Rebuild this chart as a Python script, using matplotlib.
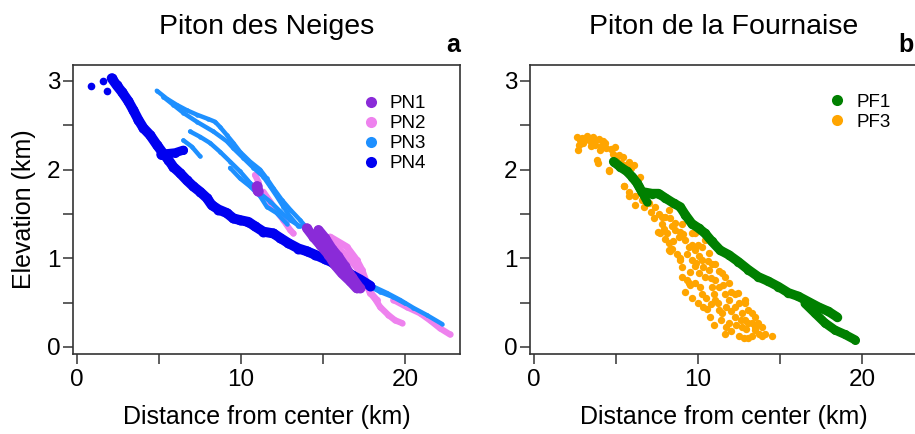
import matplotlib
matplotlib.use('Agg')
import matplotlib.pyplot as plt
from matplotlib.lines import Line2D

plt.rcParams['font.family'] = ['Liberation Sans', 'DejaVu Sans']

# ---------------- data (km) ----------------
# Piton des Neiges
pn4_x = [2.11, 2.42, 2.72, 3.13, 3.43, 3.74, 4.04, 4.45, 4.86, 5.26, 5.57, 5.87, 6.28, 6.69, 7.09,
         7.50, 7.91, 8.21, 8.62, 9.13, 9.53, 9.94, 10.45, 10.85, 11.36, 11.97, 12.38, 12.89, 13.50,
         14.00, 14.51, 15.12, 15.60, 16.10, 16.75, 17.26, 17.87]
pn4_y = [3.03, 2.95, 2.88, 2.77, 2.67, 2.56, 2.47, 2.39, 2.28, 2.18, 2.11, 2.03, 1.96, 1.88, 1.81,
         1.75, 1.68, 1.60, 1.55, 1.51, 1.45, 1.43, 1.41, 1.36, 1.30, 1.28, 1.23, 1.17, 1.11,
         1.08, 1.04, 0.99, 0.95, 0.90, 0.81, 0.76, 0.69]
pn4_branch_x = [5.10, 5.47, 5.98, 6.48]
pn4_branch_y = [2.17, 2.18, 2.19, 2.22]
pn4_iso_x = [0.83, 1.57, 1.85]
pn4_iso_y = [2.94, 3.00, 2.89]

pn3_a_x = [4.86, 5.47, 6.08, 6.69, 7.30, 8.01, 8.41, 8.72, 9.13, 9.53, 9.94, 10.55, 11.16, 11.57,
           11.97, 12.48, 12.99, 13.60, 14.11, 14.61, 15.22, 15.83, 16.44, 17.05, 17.66, 18.48,
           19.29, 20.00]
pn3_a_y = [2.89, 2.80, 2.73, 2.67, 2.62, 2.57, 2.54, 2.48, 2.39, 2.30, 2.20, 2.09, 2.00, 1.90,
           1.79, 1.66, 1.55, 1.43, 1.32, 1.21, 1.09, 0.98, 0.89, 0.79, 0.70, 0.62, 0.56, 0.49]
pn3_b_x = [5.26, 5.87, 6.48, 7.30, 8.31, 9.13, 9.53, 10.14, 10.75, 11.36, 11.77, 12.17, 12.58,
           12.99, 13.50]
pn3_b_y = [2.82, 2.73, 2.64, 2.54, 2.43, 2.32, 2.24, 2.13, 2.02, 1.92, 1.81, 1.70, 1.58, 1.47, 1.36]
pn3_c_x = [6.89, 7.50, 8.11, 8.72, 9.33, 9.94, 10.55, 11.16, 11.77, 12.38, 12.99, 13.60]
pn3_c_y = [2.43, 2.37, 2.30, 2.20, 2.09, 1.98, 1.85, 1.73, 1.64, 1.53, 1.43, 1.36]
pn3_d_x = [6.48, 6.99, 7.50]
pn3_d_y = [2.33, 2.26, 2.15]
pn3_e_x = [18.07, 18.88, 19.70, 20.51, 21.32, 22.24]
pn3_e_y = [0.68, 0.61, 0.53, 0.44, 0.36, 0.26]
pn3_f_x = [9.33, 9.94, 10.55, 11.16, 11.57, 12.17, 12.79]
pn3_f_y = [2.02, 1.90, 1.81, 1.70, 1.58, 1.51, 1.39]

pn2_a_x = [10.85, 11.06]
pn2_a_y = [1.94, 1.86]
pn2_b_x = [11.36, 11.77, 12.17, 12.58, 12.99, 13.19]
pn2_b_y = [1.75, 1.64, 1.53, 1.43, 1.32, 1.28]
pn2_c_x = [14.82, 15.33, 15.83, 16.24, 16.65, 17.05, 17.36, 17.66, 18.07, 18.48, 18.98, 19.39, 19.80]
pn2_c_y = [1.26, 1.21, 1.13, 1.06, 0.98, 0.89, 0.79, 0.68, 0.57, 0.45, 0.36, 0.30, 0.27]
pn2_d_x = [15.43, 16.44, 17.05, 17.36, 17.87, 18.27]
pn2_d_y = [1.24, 1.13, 0.98, 0.87, 0.61, 0.53]
pn2_e_x = [19.29, 20.10, 20.91, 21.52, 22.13, 22.74]
pn2_e_y = [0.53, 0.45, 0.38, 0.30, 0.21, 0.14]

pn1_a_x = [14.00, 14.41, 14.82, 15.33, 15.73, 16.14, 16.65, 17.05]
pn1_a_y = [1.34, 1.24, 1.15, 1.04, 0.92, 0.83, 0.74, 0.66]
pn1_b_x = [14.72, 15.12, 15.53, 15.93, 16.34, 16.75, 17.26]
pn1_b_y = [1.32, 1.23, 1.11, 1.02, 0.91, 0.79, 0.66]
pn1_c_x = [10.96, 11.02]
pn1_c_y = [1.81, 1.76]

# Piton de la Fournaise
pf1_a_x = [4.85, 5.26, 5.66, 5.97, 6.27, 6.58, 7.19, 7.59, 8.00, 8.51, 8.91, 9.22, 9.62, 10.03,
           10.43, 10.84, 11.35, 11.86, 12.46, 13.07, 13.68, 14.29, 14.90, 15.51, 16.12, 16.73,
           17.34, 17.95, 18.45]
pf1_a_y = [2.09, 2.03, 1.98, 1.92, 1.85, 1.75, 1.73, 1.73, 1.68, 1.62, 1.58, 1.49, 1.39, 1.34,
           1.28, 1.19, 1.09, 1.04, 0.96, 0.87, 0.79, 0.74, 0.68, 0.61, 0.57, 0.51, 0.45, 0.40, 0.34]
pf1_b_x = [16.52, 17.13, 17.74, 18.35, 18.96, 19.57]
pf1_b_y = [0.49, 0.38, 0.27, 0.19, 0.14, 0.08]
pf1_c_x = [6.37, 6.88]
pf1_c_y = [1.81, 1.64]

pf3_x = [2.62, 3.33, 3.94, 2.72, 3.73, 4.34, 4.95, 5.16, 5.77, 6.07, 3.90, 4.55, 6.48,
         2.90, 3.10, 3.50, 3.60, 4.10, 4.70, 5.40, 5.60, 5.90, 3.00, 4.20,
         2.80, 3.20, 3.45, 3.80, 4.00, 4.40, 4.80, 5.00, 5.30, 2.70,
         5.46, 5.77, 6.17, 6.68, 6.98,
         7.39, 8.00, 8.61, 9.21, 9.82, 10.23, 10.64, 11.04, 11.65, 12.26, 12.87, 13.48, 14.09, 14.49,
         7.80, 7.69, 8.20, 8.30, 8.91, 9.01, 9.52, 9.82, 10.23, 10.54, 10.74, 11.25, 11.65, 11.86,
         12.47, 13.07, 13.48,
         9.62, 10.23, 10.84, 11.65, 12.26, 12.87, 13.28, 13.89,
         7.80, 8.40, 8.81, 9.42, 10.03, 10.43, 11.25, 11.86, 12.67, 13.07, 9.62, 10.03, 11.04,
         11.45, 12.26, 12.67, 13.28, 8.20, 9.01, 9.83, 10.64, 11.04, 11.45, 11.86, 12.46, 12.87,
         13.07, 13.48, 13.68, 10.43, 10.84,
         3.84, 4.57, 5.48, 5.79, 6.15, 6.58, 8.10, 8.20, 8.91, 9.42, 10.33, 7.30, 7.55, 9.20,
         7.10, 7.60, 8.30, 8.60, 7.90, 8.90, 8.50, 9.10, 9.30, 9.60, 8.70, 10.00, 9.00, 9.50,
         10.30, 10.60, 9.30, 9.80, 10.10, 10.80, 11.30, 10.50, 11.00, 11.50, 12.00, 10.80,
         11.20, 11.70, 12.50, 11.00, 11.40, 12.00, 12.30, 12.90, 13.30, 13.70, 12.00, 12.60,
         10.00, 9.60, 11.70, 12.80, 13.90, 8.00, 8.40, 9.90]
pf3_y = [2.37, 2.35, 2.35, 2.28, 2.28, 2.30, 2.26, 2.17, 2.09, 2.05, 2.08, 1.98, 1.92,
         2.36, 2.33, 2.31, 2.37, 2.27, 2.23, 2.14, 2.05, 2.02, 2.30, 2.32,
         2.33, 2.38, 2.27, 2.33, 2.22, 2.24, 2.18, 2.12, 2.08, 2.22,
         1.82, 1.75, 1.70, 1.58, 1.62,
         1.58, 1.47, 1.32, 1.21, 1.09, 0.98, 0.87, 0.76, 0.60, 0.45, 0.30, 0.19, 0.14, 0.12,
         1.39, 1.28, 1.17, 1.08, 0.98, 0.79, 0.70, 0.91, 0.60, 0.43, 0.34, 0.42, 0.15, 0.27,
         0.12, 0.10, 0.23,
         1.28, 1.13, 0.94, 0.79, 0.60, 0.49, 0.38, 0.23,
         1.47, 1.36, 1.24, 1.13, 1.02, 0.79, 0.68, 0.53, 0.38, 0.27, 0.98, 0.83, 0.53,
         0.38, 0.34, 0.23, 0.12, 1.55, 1.39, 1.28, 1.06, 0.94, 0.83, 0.72, 0.61, 0.53,
         0.42, 0.34, 0.27, 1.21, 0.68,
         2.11, 2.00, 1.82, 1.70, 1.60, 1.66, 1.28, 1.09, 1.00, 0.72, 0.45, 1.45, 1.30, 0.62,
         1.52, 1.50, 1.45, 1.40, 1.33, 1.30, 1.20, 1.27, 1.05, 1.15, 1.05, 1.15, 0.90, 0.85,
         0.90, 0.97, 0.75, 0.72, 0.68, 0.78, 0.86, 0.55, 0.60, 0.70, 0.62, 0.48,
         0.50, 0.45, 0.50, 0.25, 0.30, 0.18, 0.25, 0.20, 0.27, 0.15, 0.40, 0.30,
         0.50, 0.55, 0.22, 0.10, 0.12, 1.22, 1.10, 0.95]

xticks = [0, 5, 10, 15, 20]
xticklabels = ['0', '', '10', '', '20']
yticks = [0, 0.5, 1, 1.5, 2, 2.5, 3]
yticklabels = ['0', '', '1', '', '2', '', '3']

c_pn1 = '#8A2BD8'
c_pn2 = '#EE82EE'
c_pn3 = '#1E90FF'
c_pn4 = '#0000F0'
c_pf1 = '#008000'
c_pf3 = '#FFA500'

# ---------------- figure ----------------
W, H = 915, 434
fig = plt.figure(figsize=(W / 100, H / 100), dpi=100)


def rect(l, t, r, b):
    return [l / W, 1 - b / H, (r - l) / W, (b - t) / H]


ax1 = fig.add_axes(rect(73, 65, 460, 354))
ax2 = fig.add_axes(rect(530, 65, 917, 354))


def track(ax, x, y, color, w, z):
    ax.plot(x, y, '-o', color=color, lw=w, ms=w, mec='none',
            solid_capstyle='round', solid_joinstyle='round', zorder=z)


# left panel
track(ax1, pn2_a_x, pn2_a_y, c_pn2, 4.5, 2)
track(ax1, pn2_b_x, pn2_b_y, c_pn2, 4.5, 2)
track(ax1, pn2_c_x, pn2_c_y, c_pn2, 4.5, 2)
track(ax1, pn2_d_x, pn2_d_y, c_pn2, 5.0, 2)
track(ax1, pn2_e_x, pn2_e_y, c_pn2, 4.5, 2)
for xs, ys in [(pn3_a_x, pn3_a_y), (pn3_b_x, pn3_b_y), (pn3_c_x, pn3_c_y),
               (pn3_d_x, pn3_d_y), (pn3_e_x, pn3_e_y), (pn3_f_x, pn3_f_y)]:
    track(ax1, xs, ys, c_pn3, 3.2, 3)
track(ax1, pn4_x, pn4_y, c_pn4, 7.2, 4)
track(ax1, pn4_branch_x, pn4_branch_y, c_pn4, 6.5, 4)
ax1.plot(pn4_iso_x, pn4_iso_y, 'o', color=c_pn4, ms=5.5, mec='none', zorder=4)
track(ax1, pn1_a_x, pn1_a_y, c_pn1, 7.0, 5)
track(ax1, pn1_b_x, pn1_b_y, c_pn1, 7.0, 5)
track(ax1, pn1_c_x, pn1_c_y, c_pn1, 7.5, 5)

# right panel
ax2.plot(pf3_x, pf3_y, 'o', color=c_pf3, ms=5.3, mec='none', zorder=2)
track(ax2, pf1_a_x, pf1_a_y, c_pf1, 6.8, 3)
track(ax2, pf1_b_x, pf1_b_y, c_pf1, 6.5, 3)
track(ax2, pf1_c_x, pf1_c_y, c_pf1, 6.0, 3)

spine_c = '#333333'
for ax in (ax1, ax2):
    ax.set_xlim(-0.25, 23.35)
    ax.set_ylim(-0.08, 3.18)
    ax.set_xticks(xticks)
    ax.set_xticklabels(xticklabels)
    ax.set_yticks(yticks)
    ax.set_yticklabels(yticklabels)
    ax.tick_params(direction='out', length=7, width=1.1, color=spine_c,
                   labelsize=17.5, pad=2)
    ax.tick_params(axis='x', pad=4)
    for s in ax.spines.values():
        s.set_color(spine_c)
        s.set_linewidth(1.2)
    ax.set_xlabel('Distance from center (km)', fontsize=18, labelpad=10)

ax1.set_ylabel('Elevation (km)', fontsize=18, labelpad=8)
ax1.set_title('Piton des Neiges', fontsize=20.5, pad=22)
ax2.set_title('Piton de la Fournaise', fontsize=20.5, pad=22)
ax1.text(1.0, 1.045, 'a', transform=ax1.transAxes, ha='right', va='baseline',
         fontsize=18, fontweight='bold')
ax2.text(0.952, 1.045, 'b', transform=ax2.transAxes, ha='left', va='baseline',
         fontsize=18, fontweight='bold')


def handles(colors):
    return [Line2D([], [], ls='', marker='o', ms=8, color=c, mec='none') for c in colors]


ax1.legend(handles([c_pn1, c_pn2, c_pn3, c_pn4]), ['PN1', 'PN2', 'PN3', 'PN4'],
           loc='upper left', bbox_to_anchor=(0.745, 0.895), frameon=False, fontsize=13.5,
           handlelength=1.0, handletextpad=0.5, labelspacing=0.15, borderpad=0,
           borderaxespad=0)
ax2.legend(handles([c_pf1, c_pf3]), ['PF1', 'PF3'],
           loc='upper left', bbox_to_anchor=(0.77, 0.9), frameon=False, fontsize=13.5,
           handlelength=1.0, handletextpad=0.5, labelspacing=0.15, borderpad=0,
           borderaxespad=0)

fig.savefig('out.png', dpi=100)
